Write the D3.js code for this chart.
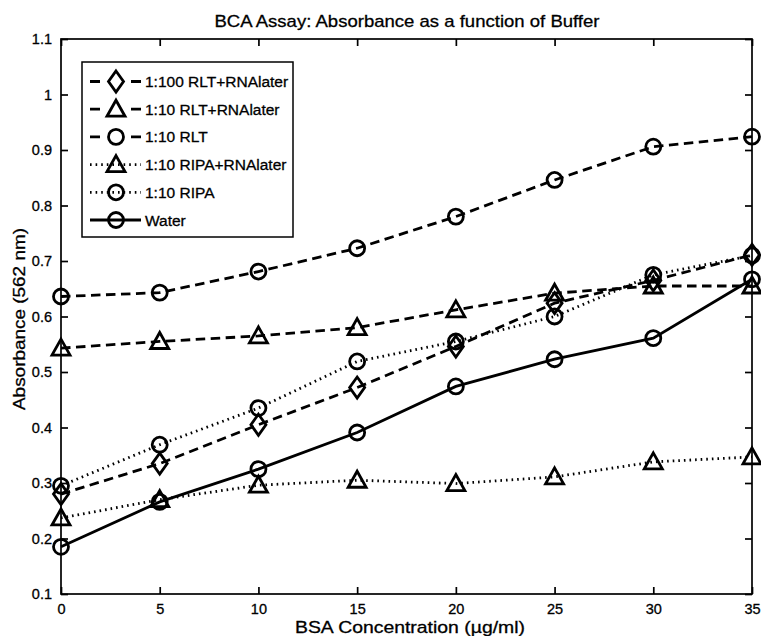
<!DOCTYPE html>
<html>
<head>
<meta charset="utf-8">
<script src="https://cdn.jsdelivr.net/npm/d3@7"></script>
<style>
  html, body { margin: 0; padding: 0; background: #fff; }
  svg { display: block; font-family: "Liberation Sans", Arial, Helvetica, sans-serif; }
  svg text { stroke: #000; stroke-width: 0.3px; fill: #000; }
</style>
</head>
<body>
<svg id="chart" width="761" height="636"></svg>
<script>
// ---- Data ----
const bsa = [0, 5, 10, 15, 20, 25, 30, 35];
const seriesNames = ["1:100 RLT+RNAlater", "1:10 RLT+RNAlater", "1:10 RLT", "1:10 RIPA+RNAlater", "1:10 RIPA", "Water"];
const rlt100RNA = [0.280, 0.335, 0.405, 0.472, 0.546, 0.624, 0.665, 0.711];
const rlt10RNA  = [0.543, 0.555, 0.565, 0.580, 0.612, 0.642, 0.655, 0.655];
const rlt10     = [0.636, 0.643, 0.681, 0.723, 0.780, 0.846, 0.906, 0.924];
const ripa10RNA = [0.237, 0.270, 0.296, 0.305, 0.299, 0.311, 0.338, 0.347];
const ripa10    = [0.295, 0.369, 0.435, 0.519, 0.555, 0.600, 0.675, 0.710];
const water     = [0.185, 0.266, 0.325, 0.391, 0.474, 0.523, 0.561, 0.667];
const xTicks = [0, 5, 10, 15, 20, 25, 30, 35];
const yTicks = [0.1, 0.2, 0.3, 0.4, 0.5, 0.6, 0.7, 0.8, 0.9, 1.0, 1.1];
const yTickLabels = ["0.1", "0.2", "0.3", "0.4", "0.5", "0.6", "0.7", "0.8", "0.9", "1", "1.1"];
const titleText = "BCA Assay: Absorbance as a function of Buffer";
const xLabel = "BSA Concentration (\u00B5g/ml)";
const yLabel = "Absorbance (562 nm)";

// ---- Styles ----
const seriesValues = [rlt100RNA, rlt10RNA, rlt10, ripa10RNA, ripa10, water];
const seriesMarker = ["diamond", "triangle", "circle", "triangle", "circle", "circle"];
const seriesDash = ["9.5,5.5", "9.5,5.5", "9.5,5.5", "1.6,4", "1.6,4", null];
const legendDash = ["10,31", "10,31", "10,31", "1.6,4", "1.6,4", null];

const svg = d3.select("#chart");
const mLeft = 61, mRight = 752, mTop = 39, mBottom = 594;

const x = d3.scaleLinear().domain([0, 35]).range([mLeft, mRight]);
const y = d3.scaleLinear().domain([0.1, 1.1]).range([mBottom, mTop]);

function markerPath(type) {
  if (type === "circle") {
    const r = 7.5;
    return `M${-r},0A${r},${r} 0 1,0 ${r},0A${r},${r} 0 1,0 ${-r},0Z`;
  }
  if (type === "triangle") {
    return "M0,-9L9,7L-9,7Z";
  }
  return "M0,-10.5L7.5,0L0,10.5L-7.5,0Z";
}

// Frame
svg.append("rect")
  .attr("x", mLeft).attr("y", mTop)
  .attr("width", mRight - mLeft).attr("height", mBottom - mTop)
  .attr("fill", "none").attr("stroke", "#000").attr("stroke-width", 1.7);

// Axes via d3 axis (inner ticks)
const axB = d3.axisBottom(x).tickValues(xTicks).tickSize(-7).tickPadding(10).tickFormat(d3.format("d"));
const axT = d3.axisTop(x).tickValues(xTicks).tickSize(-7).tickFormat("");
const axL = d3.axisLeft(y).tickValues(yTicks).tickSize(-7).tickPadding(9).tickFormat((d, i) => yTickLabels[i]);
const axR = d3.axisRight(y).tickValues(yTicks).tickSize(-7).tickFormat("");

function styleAxis(g) {
  g.select(".domain").remove();
  g.selectAll(".tick line").attr("stroke", "#000").attr("stroke-width", 1.7);
  g.selectAll(".tick text").attr("fill", "#000").attr("font-size", 14.5)
    .attr("font-family", "'Liberation Sans', Arial, sans-serif");
}
svg.append("g").attr("transform", `translate(0,${mBottom})`).call(axB).call(styleAxis);
svg.append("g").attr("transform", `translate(0,${mTop})`).call(axT).call(styleAxis);
svg.append("g").attr("transform", `translate(${mLeft},0)`).call(axL).call(styleAxis);
svg.append("g").attr("transform", `translate(${mRight},0)`).call(axR).call(styleAxis);

// Series
const line = d3.line().x((d, i) => x(bsa[i])).y(d => y(d));
seriesValues.forEach((vals, s) => {
  const g = svg.append("g");
  g.append("path").datum(vals)
    .attr("d", line)
    .attr("fill", "none").attr("stroke", "#000").attr("stroke-width", 2.8)
    .attr("stroke-dasharray", seriesDash[s]);
  g.selectAll("path.m").data(vals).enter().append("path")
    .attr("class", "m")
    .attr("d", markerPath(seriesMarker[s]))
    .attr("transform", (d, i) => `translate(${x(bsa[i])},${y(d)})`)
    .attr("fill", "none").attr("stroke", "#000").attr("stroke-width", 2.8)
    .attr("stroke-linejoin", "miter");
});

// Legend
const lg = svg.append("g");
lg.append("rect").attr("x", 82).attr("y", 62).attr("width", 211).attr("height", 175)
  .attr("fill", "#fff").attr("stroke", "#000").attr("stroke-width", 1.5);
seriesNames.forEach((name, s) => {
  const cy = 81.5 + s * 27.7;
  lg.append("line").attr("x1", 90).attr("x2", 141).attr("y1", cy).attr("y2", cy)
    .attr("stroke", "#000").attr("stroke-width", 2.8)
    .attr("stroke-dasharray", legendDash[s]);
  lg.append("path").attr("d", markerPath(seriesMarker[s]))
    .attr("transform", `translate(116,${cy})`)
    .attr("fill", "none").attr("stroke", "#000").attr("stroke-width", 2.8);
  lg.append("text").attr("x", 145).attr("y", cy).attr("dy", "0.36em")
    .attr("font-size", 15.5).text(name);
});

// Title and labels
svg.append("text").attr("x", 407).attr("y", 26.5)
  .attr("text-anchor", "middle").attr("font-size", 17)
  .attr("textLength", 385).attr("lengthAdjust", "spacingAndGlyphs").text(titleText);
svg.append("text").attr("x", 410).attr("y", 633)
  .attr("text-anchor", "middle").attr("font-size", 17)
  .attr("textLength", 230).attr("lengthAdjust", "spacingAndGlyphs").text(xLabel);
svg.append("text").attr("transform", `translate(25,319) rotate(-90)`)
  .attr("text-anchor", "middle").attr("font-size", 17)
  .attr("textLength", 182).attr("lengthAdjust", "spacingAndGlyphs").text(yLabel);
</script>
</body>
</html>
